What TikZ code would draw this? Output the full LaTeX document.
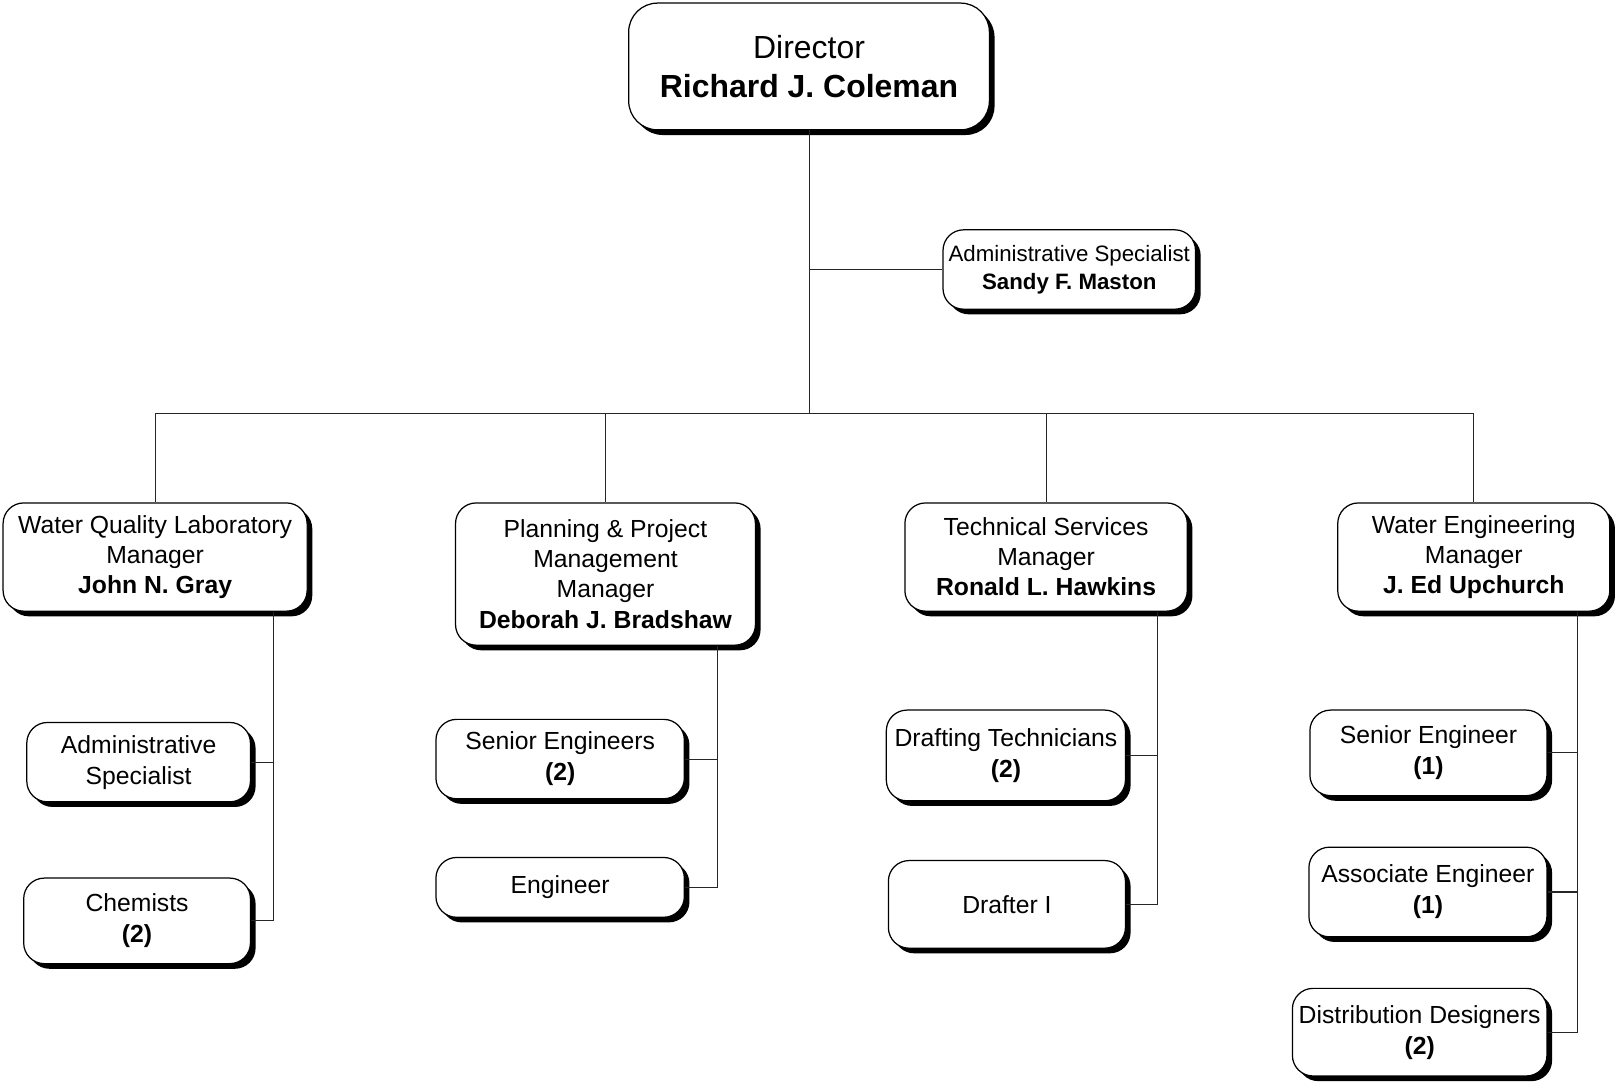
\documentclass[tikz,border=0pt]{standalone}
\usepackage{fontspec}
\setmainfont{Liberation Sans}
\usetikzlibrary{shadows}
\begin{document}
\begin{tikzpicture}[x=0.5pt,y=-0.5pt,
  box/.style={draw, line width=0.6pt, rounded corners=10pt, fill=white, align=center,
    inner sep=0pt, drop shadow={shadow xshift=2.5pt, shadow yshift=-2.5pt, fill=black, opacity=1},
    font=\fontsize{12}{15}\selectfont},
  mgr/.style={box, font=\fontsize{12}{14.6}\selectfont},
  conn/.style={line width=0.5pt, draw=black!85}]
\useasboundingbox (0,0) rectangle (1568,1049);
% top
\node[box, rounded corners=14pt, minimum width=175pt, minimum height=61.5pt,
  font=\fontsize{15.5}{19}\selectfont] (dir) at (785,64.5) {Director\\\textbf{Richard J. Coleman}};
\node[box, minimum width=122.5pt, minimum height=38.5pt, font=\fontsize{10.8}{13.5}\selectfont]
  (adm) at (1037.5,261.5) {Administrative Specialist\\\textbf{Sandy F. Maston}};
% managers
\node[mgr, minimum width=147.5pt, minimum height=52.5pt] (wql) at (150.5,540.5)
  {Water Quality Laboratory\\Manager\\\textbf{John N. Gray}};
\node[mgr, minimum width=145.5pt, minimum height=69pt] (ppm) at (587.5,557)
  {Planning \& Project\\Management\\Manager\\\textbf{Deborah J. Bradshaw}};
\node[mgr, minimum width=137pt, minimum height=52.5pt] (ts) at (1015,540.5)
  {Technical Services\\Manager\\\textbf{Ronald L. Hawkins}};
\node[mgr, minimum width=132pt, minimum height=52.5pt] (we) at (1430,540.5)
  {Water Engineering\\Manager\\\textbf{J. Ed Upchurch}};
% WQL children
\node[box, minimum width=108.5pt, minimum height=38.5pt] (wqadm) at (134.5,739.5)
  {Administrative\\Specialist};
\node[box, minimum width=110pt, minimum height=41.5pt] (chem) at (133,893.5)
  {Chemists\\\textbf{(2)}};
% PPM children
\node[box, minimum width=120.5pt, minimum height=38.5pt] (seng2) at (543.5,736.5)
  {Senior Engineers\\\textbf{(2)}};
\node[box, minimum width=120.5pt, minimum height=29pt] (eng) at (543.5,861)
  {Engineer};
% TS children
\node[box, minimum width=116pt, minimum height=44pt] (draft) at (976,733)
  {Drafting Technicians\\\textbf{(2)}};
\node[box, minimum width=115pt, minimum height=42.5pt] (drafter) at (977,877.5)
  {Drafter I};
% WE children
\node[box, minimum width=115pt, minimum height=41.5pt] (seng1) at (1386,730.5)
  {Senior Engineer\\\textbf{(1)}};
\node[box, minimum width=115.5pt, minimum height=43.5pt] (assoc) at (1385.5,865.5)
  {Associate Engineer\\\textbf{(1)}};
\node[box, minimum width=123.5pt, minimum height=42.5pt] (dist) at (1377.5,1001.5)
  {Distribution Designers\\\textbf{(2)}};
% connectors top
\coordinate (bus) at (785,401);
\coordinate (busl) at (150.5,401);
\coordinate (busr) at (1430,401);
\draw[conn] (dir.south) -- (bus);
\draw[conn] (dir.south |- adm.west) -- (adm.west);
\draw[conn] (busl) -- (busr);
\draw[conn] (busl) -- (wql.north);
\draw[conn] (ppm.north |- bus) -- (ppm.north);
\draw[conn] (ts.north |- bus) -- (ts.north);
\draw[conn] (busr) -- (we.north);
% trunks
\coordinate (t1) at (265,0);
\coordinate (t2) at (696,0);
\coordinate (t3) at (1123,0);
\coordinate (t4) at (1531,0);
\draw[conn] (t1 |- wql.south) -- (t1 |- chem.east) -- (chem.east);
\draw[conn] (wqadm.east) -- (t1 |- wqadm.east);
\draw[conn] (t2 |- ppm.south) -- (t2 |- eng.east) -- (eng.east);
\draw[conn] (seng2.east) -- (t2 |- seng2.east);
\draw[conn] (t3 |- ts.south) -- (t3 |- drafter.east) -- (drafter.east);
\draw[conn] (draft.east) -- (t3 |- draft.east);
\draw[conn] (t4 |- we.south) -- (t4 |- dist.east) -- (dist.east);
\draw[conn] (seng1.east) -- (t4 |- seng1.east);
\draw[conn] (assoc.east) -- (t4 |- assoc.east);
\end{tikzpicture}
\end{document}
